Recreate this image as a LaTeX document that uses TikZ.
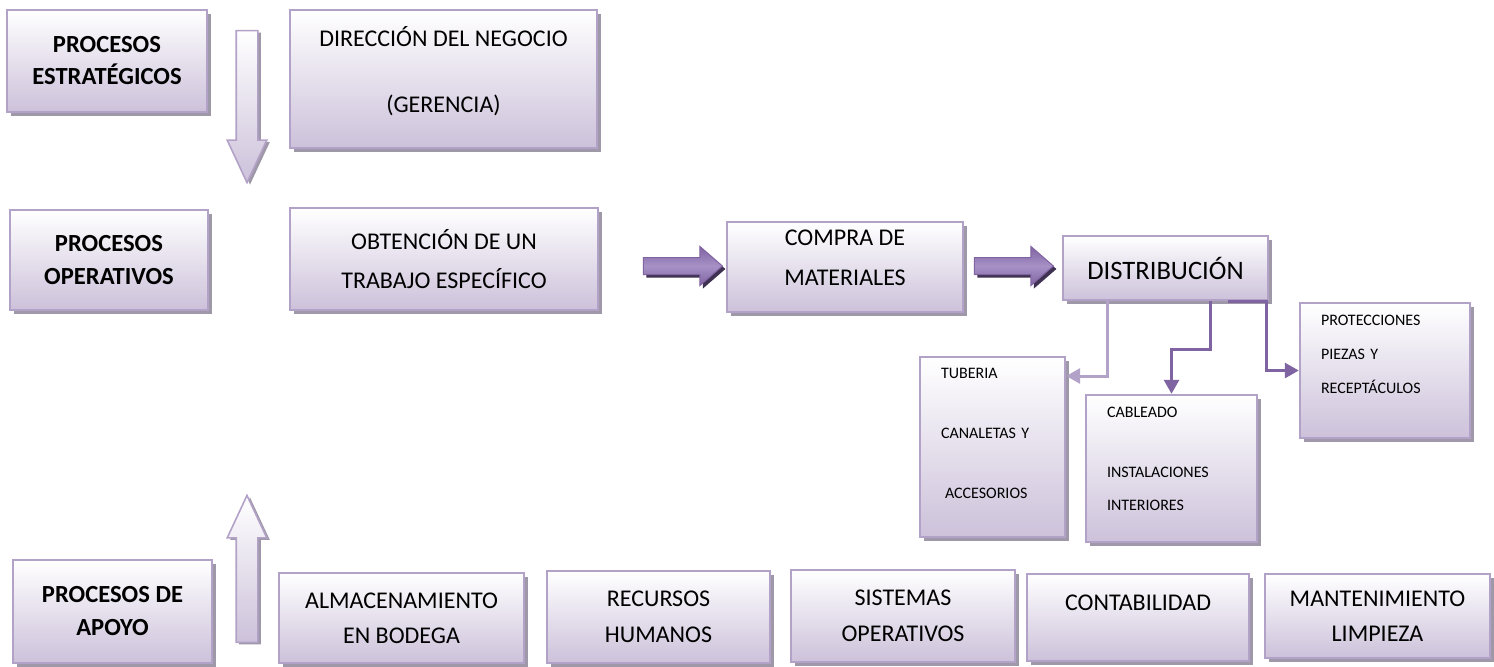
\documentclass[tikz,border=0pt]{standalone}
\usepackage{fontspec}
\setmainfont{Carlito}
\usetikzlibrary{shapes.arrows,shadows,arrows.meta}

\definecolor{lavline}{RGB}{179,162,199}
\definecolor{lavfill}{RGB}{204,193,218}
\definecolor{boxshade}{RGB}{158,152,168}
\definecolor{purp}{RGB}{128,100,162}
\definecolor{purpdark}{RGB}{63,49,81}
\definecolor{purplight}{RGB}{166,145,198}

\begin{document}
\begin{tikzpicture}[x=0.5pt,y=-0.5pt]
\tikzstyle{pbox}=[draw=lavline, line width=1.2pt, top color=white, bottom color=lavfill, drop shadow={shadow xshift=2pt, shadow yshift=-2pt, fill=boxshade, opacity=1}, inner sep=0pt, align=center, font=\fontsize{12}{16}\selectfont]
\tikzstyle{bold}=[font=\fontsize{12.3}{16}\selectfont\bfseries]
\tikzstyle{sbox}=[pbox, align=left, inner xsep=10.5pt, font=\fontsize{8}{10}\selectfont]
\tikzstyle{varrow}=[single arrow, draw=lavline, line width=0.8pt, top color=white, bottom color=lavfill, inner sep=5pt, single arrow head extend=4.5pt, single arrow tip angle=50, drop shadow={shadow xshift=1.5pt, shadow yshift=-1pt, fill=boxshade, opacity=1}]
\tikzstyle{harrow}=[single arrow, draw=purp, line width=0.5pt, top color=purp, bottom color=purp, middle color=purplight, inner sep=4pt, single arrow head extend=5.5pt, single arrow tip angle=82, minimum height=39.5pt, drop shadow={shadow xshift=1.5pt, shadow yshift=-1.5pt, fill=purpdark, opacity=1}]
\tikzstyle{lconn}=[draw=lavline, line width=1.5pt, -{Triangle[width=7.5pt,length=7pt]}]
\tikzstyle{dconn}=[draw=purp, line width=1.5pt, -{Triangle[width=7.5pt,length=7pt]}]

\fill[white] (0,0) rectangle (1494,666);
\useasboundingbox (0,0) rectangle (1494,666);

\node (strat) [pbox, bold, minimum width=100pt, minimum height=51pt] at (107,61) {PROCESOS\\ESTRATÉGICOS};
\node (dir) [pbox, minimum width=153.5pt, minimum height=69pt, text depth=9.5pt] at (443.5,79) {DIRECCIÓN DEL NEGOCIO\\[17pt](GERENCIA)};
\node (down) [varrow, rotate=-90, minimum height=76pt] at (247,95) {};

\node (oper) [pbox, bold, minimum width=99pt, minimum height=50pt] at (109,260) {PROCESOS\\[0.5pt]OPERATIVOS};
\node (obt) [pbox, minimum width=154pt, minimum height=51pt] at (444,259) {OBTENCIÓN DE UN\\[3.5pt]TRABAJO ESPECÍFICO};
\node (arr1) [harrow] at (678,266) {};
\node (compra) [pbox, minimum width=118pt, minimum height=45pt, text depth=9pt] at (845,267) {COMPRA DE\\[4pt]MATERIALES};
\node (arr2) [harrow] at (1009,266) {};
\node (dist) [pbox, minimum width=102.5pt, minimum height=32pt, font=\fontsize{13.3}{16}\selectfont] at (1165.5,268) {DISTRIBUCIÓN};

\node (tub) [sbox, text width=51.5pt, minimum height=90pt, text depth=74pt] at (992.5,447) {TUBERIA\\[20pt]CANALETAS Y\\[20pt]\hspace{2pt}ACCESORIOS};
\node (cab) [sbox, text width=64.5pt, minimum height=73.5pt, text depth=56pt] at (1171.5,468.5) {CABLEADO\\[20pt]INSTALACIONES\\[6.5pt]INTERIORES};
\node (prot) [sbox, text width=64pt, minimum height=67.5pt, text depth=50.5pt] at (1385,370.5) {PROTECCIONES\\[7pt]PIEZAS Y\\[7pt]RECEPTÁCULOS};

\node (apoyo) [pbox, bold, minimum width=99.5pt, minimum height=51.5pt] at (112.5,611.5) {PROCESOS DE\\[0.5pt]APOYO};
\node (up) [varrow, rotate=90, minimum height=73.5pt] at (247,580.5) {};
\node (alm) [pbox, minimum width=122.5pt, minimum height=45pt] at (401.5,618) {ALMACENAMIENTO\\[1.5pt]EN BODEGA};
\node (rec) [pbox, minimum width=111.5pt, minimum height=46pt] at (658.5,617) {RECURSOS\\[2pt]HUMANOS};
\node (sis) [pbox, minimum width=112pt, minimum height=46pt] at (903,616) {SISTEMAS\\[2pt]OPERATIVOS};
\node (cont) [pbox, minimum width=111pt, minimum height=43.5pt, text depth=15pt] at (1138,617.5) {CONTABILIDAD};
\node (mant) [pbox, minimum width=112.5pt, minimum height=42pt] at (1377.5,616) {MANTENIMIENTO\\[1.5pt]LIMPIEZA};

\draw [lconn] ([xshift=-29.25pt]dist.south) |- ([yshift=35.5pt]tub.east);
\draw [dconn] ([xshift=22.25pt]dist.south) -- ++(0,48) -| (cab.north);
\draw [dconn] ([xshift=31.25pt]dist.south) -- ([xshift=-1.5pt]dist.south east) |- (prot.west);
\end{tikzpicture}
\end{document}
